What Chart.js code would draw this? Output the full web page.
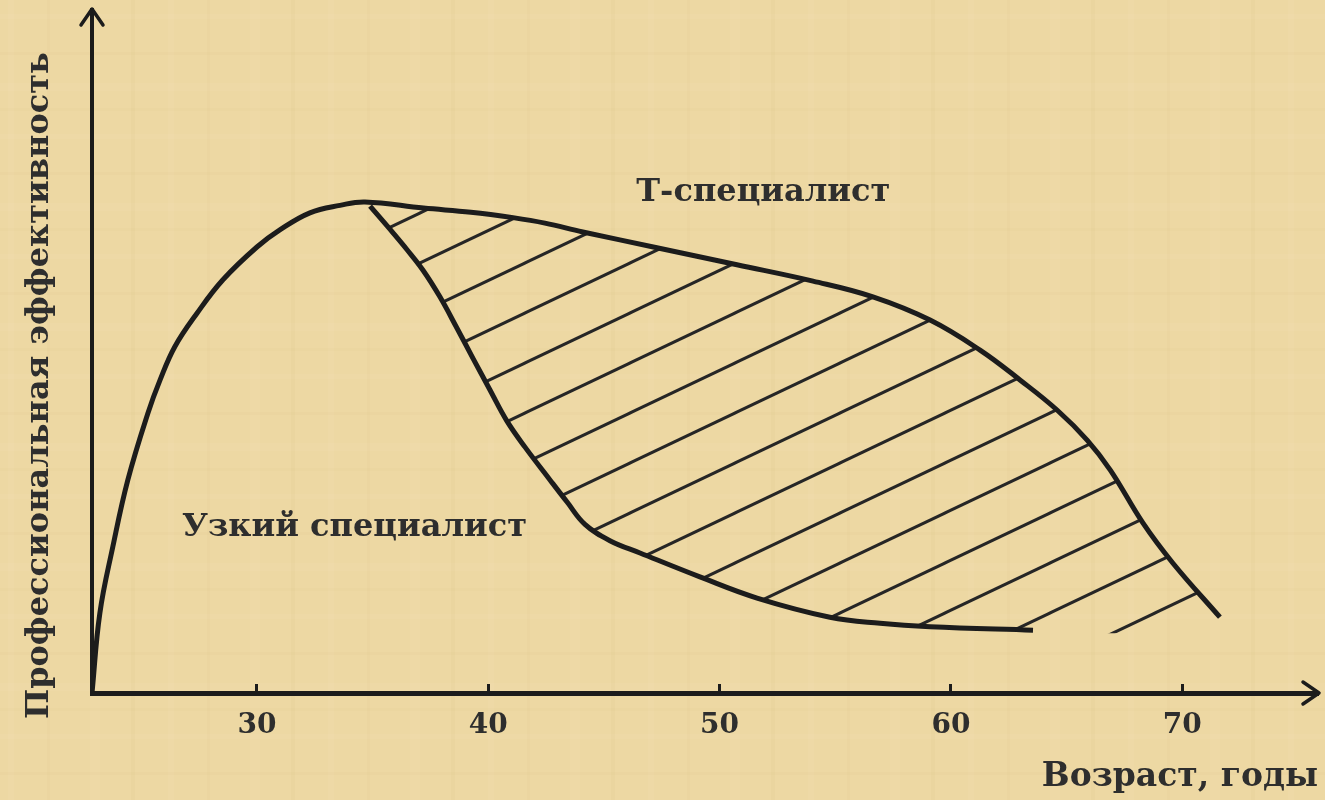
<!DOCTYPE html>
<html lang="ru">
<head>
<meta charset="utf-8">
<title>Профессиональная эффективность</title>
<script src="https://cdn.jsdelivr.net/npm/chart.js@4/dist/chart.umd.min.js"></script>
<style>
  html, body { margin: 0; padding: 0; background: #edd8a3; }
  #wrap { width: 1325px; height: 800px; }
</style>
</head>
<body>
<div id="wrap"><canvas id="chart" width="1325" height="800"></canvas></div>
<script>
// возраст / эффективность
const tAge = [22.87, 23.21, 23.77, 24.42, 25.29, 25.81, 26.45, 27.41, 28.53, 30.0, 30.99, 32.29, 33.59, 34.67,
  37.2, 39.25, 41.07, 42.45, 44.09, 47.29, 50.75, 54.04, 56.63, 59.1, 61.26, 63.0, 64.6,
  65.9, 66.9, 68.3, 69.6, 71.63];
const tEff = [0, 11.7, 21.4, 31.2, 41.0, 45.8, 50.7, 55.6, 60.5, 65.3, 67.8, 70.3, 71.4, 71.9,
  71.0, 70.4, 69.6, 68.8, 67.5, 65.2, 62.7, 60.3, 58.0, 54.6, 50.2, 45.8, 41.4,
  37.0, 32.6, 24.9, 19.0, 11.1];

const narrowAge = [34.89, 35.75, 36.49, 37.18, 37.91, 38.65, 39.34, 40.07, 40.81, 41.59, 42.67, 43.4, 44.18, 45.26,
  46.56, 49.15, 51.62, 54.77, 56.94, 59.1, 63.55];
const narrowEff = [71.3, 67.9, 64.9, 61.9, 58.0, 53.4, 49.0, 44.4, 39.8, 36.0, 31.2, 28.0, 24.7, 22.3,
  20.5, 17.0, 13.9, 11.1, 10.2, 9.7, 9.2];

// нижняя граница штриховки за концом кривой узкого специалиста
const hatchTailAge = [68.18, 71.63];
const hatchTailEff = [8.9, 11.1];

const xTicks = [30, 40, 50, 60, 70];

const yTitle = 'Профессиональная эффективность';
const labelT = { text: 'Т-специалист', age: 46.4, eff: 73.2 };
const labelNarrow = { text: 'Узкий специалист', age: 26.76, eff: 24.2 };

const toPoints = (xs, ys) => xs.map((x, i) => ({ x, y: ys[i] }));

const ink = '#1c1c1c';
const textInk = '#2e2e2e';
const font = 'DejaVu Serif';
const paperColor = '#edd8a3';

// штриховка: шаг по вертикали 50, наклон 50/105
const tw = 105;
const th = 50;
const tile = document.createElement('canvas');
tile.width = tw;
tile.height = th;
const tctx = tile.getContext('2d');
tctx.strokeStyle = '#262626';
tctx.lineWidth = 3;
for (let k = 0; k < 3; k++) {
  tctx.beginPath();
  tctx.moveTo(-10, th * k + 10 * th / tw);
  tctx.lineTo(tw + 10, th * k - (tw + 10) * th / tw);
  tctx.stroke();
}
const mainCtx = document.getElementById('chart').getContext('2d');
const hatch = mainCtx.createPattern(tile, 'repeat');
hatch.setTransform(new DOMMatrix().translateSelf(0, 13));

// лёгкая фактура бумаги
const grain = document.createElement('canvas');
grain.width = 160;
grain.height = 120;
const gctx = grain.getContext('2d');
gctx.fillStyle = paperColor;
gctx.fillRect(0, 0, 160, 120);
[[8, 0, 6, 120, 0.03], [47, 0, 3, 120, -0.025], [90, 0, 10, 120, 0.03], [131, 0, 4, 120, -0.03],
 [0, 14, 160, 5, 0.03], [0, 52, 160, 3, -0.025], [0, 83, 160, 8, 0.03], [0, 108, 160, 3, -0.02]].forEach(([x, y, w, h, a]) => {
  gctx.fillStyle = a > 0 ? `rgba(255,245,215,${a * 2})` : `rgba(170,130,60,${-a})`;
  gctx.fillRect(x, y, w, h);
});
const paperPattern = mainCtx.createPattern(grain, 'repeat');

const paper = {
  id: 'paper',
  beforeDraw(chart) {
    const { ctx, width, height } = chart;
    ctx.save();
    ctx.fillStyle = paperPattern;
    ctx.fillRect(0, 0, width, height);
    ctx.restore();
  },
};

const arrows = {
  id: 'arrows',
  afterDraw(chart) {
    const { ctx, chartArea: a } = chart;
    ctx.save();
    ctx.strokeStyle = ink;
    ctx.lineWidth = 3.5;
    ctx.lineCap = 'round';
    ctx.lineJoin = 'round';
    ctx.beginPath();
    ctx.moveTo(a.right - 15, a.bottom - 11);
    ctx.lineTo(a.right + 1, a.bottom);
    ctx.lineTo(a.right - 15, a.bottom + 11);
    ctx.moveTo(a.left - 11, a.top + 15);
    ctx.lineTo(a.left, a.top - 1);
    ctx.lineTo(a.left + 11, a.top + 15);
    ctx.stroke();
    ctx.restore();
  },
};

const texts = {
  id: 'texts',
  afterDatasetsDraw(chart) {
    const { ctx, chartArea: a, scales: { x, y } } = chart;
    ctx.save();
    ctx.fillStyle = textInk;
    ctx.font = `bold 32px "${font}"`;
    ctx.textAlign = 'left';
    ctx.textBaseline = 'middle';
    [labelT, labelNarrow].forEach((l) => {
      ctx.fillText(l.text, x.getPixelForValue(l.age), y.getPixelForValue(l.eff));
    });
    // подпись оси Y чуть ниже середины, как в оригинале
    ctx.translate(a.left - 52, y.getPixelForValue(45));
    ctx.rotate(-Math.PI / 2);
    ctx.textAlign = 'center';
    ctx.fillText(yTitle, 0, 0);
    ctx.restore();
  },
};

const curve = {
  borderColor: ink,
  borderWidth: 5,
  pointRadius: 0,
  tension: 0.4,
  fill: false,
};

new Chart(mainCtx, {
  type: 'line',
  data: {
    datasets: [
      { ...curve, label: 'Т-специалист', data: toPoints(tAge, tEff) },
      { ...curve, label: 'Узкий специалист', data: toPoints(narrowAge, narrowEff) },
      {
        ...curve,
        label: 'hatch',
        data: toPoints(narrowAge.concat(hatchTailAge), narrowEff.concat(hatchTailEff)),
        borderWidth: 0,
        borderColor: 'rgba(0,0,0,0)',
        backgroundColor: hatch,
        fill: 0,
        order: 5,
      },
    ],
  },
  options: {
    responsive: false,
    animation: false,
    devicePixelRatio: 1,
    layout: { padding: { top: 10, right: 7, left: 0, bottom: 0 } },
    plugins: {
      legend: { display: false },
      tooltip: { enabled: false },
    },
    scales: {
      x: {
        type: 'linear',
        min: 22.87,
        max: 75.87,
        afterBuildTicks: (s) => { s.ticks = xTicks.map((v) => ({ value: v })); },
        afterFit: (s) => { s.height = 107; },
        grid: {
          display: true,
          drawOnChartArea: false,
          drawTicks: true,
          tickLength: -9,
          tickWidth: 3,
          tickColor: ink,
        },
        border: { display: true, color: ink, width: 5 },
        ticks: {
          color: textInk,
          padding: 25,
          maxRotation: 0,
          font: { family: font, size: 28, weight: 'bold' },
        },
        title: {
          display: true,
          text: 'Возраст, годы',
          align: 'end',
          color: textInk,
          padding: { top: 0, bottom: 3 },
          font: { family: font, size: 33, weight: 'bold' },
        },
      },
      y: {
        type: 'linear',
        min: 0,
        max: 100,
        afterFit: (s) => { s.width = 92; },
        grid: { display: false },
        border: { display: true, color: ink, width: 4 },
        ticks: { display: false },
      },
    },
  },
  plugins: [paper, arrows, texts],
});
</script>
</body>
</html>
